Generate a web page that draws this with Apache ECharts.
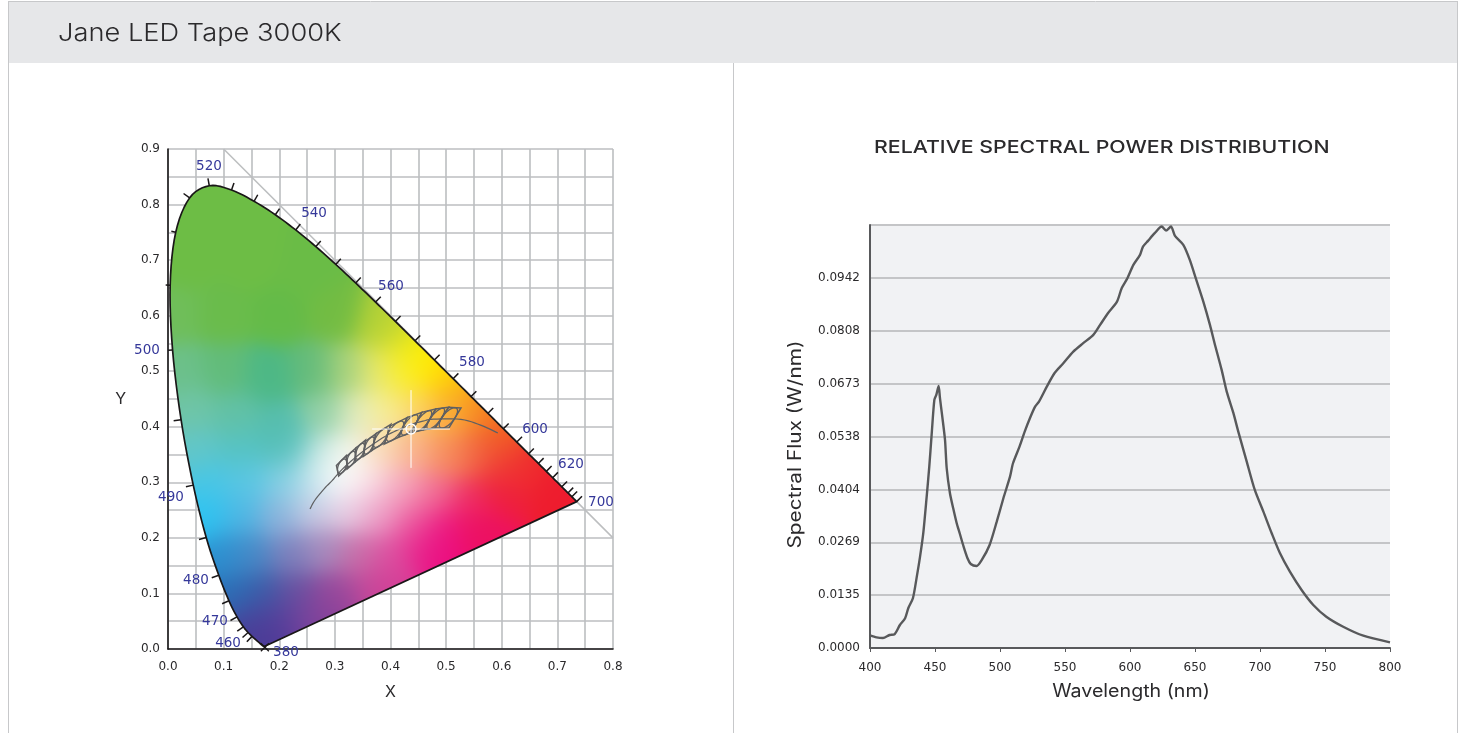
<!DOCTYPE html>
<html><head><meta charset="utf-8">
<style>html,body{margin:0;padding:0;background:#fff}#c{width:1459px;height:733px}</style>
<script src="https://cdn.jsdelivr.net/npm/echarts@6/dist/echarts.min.js"></script>
</head><body><div id="c"></div>
<script>
// CIE 1931 spectral locus
const locusNm=[380,385,390,395,400,405,410,415,420,425,430,435,440,445,450,455,460,465,470,475,480,485,490,495,500,505,510,515,520,525,530,535,540,545,550,555,560,565,570,575,580,585,590,595,600,605,610,615,620,625,630,635,640,645,650,660,700];
const locusX=[.1741,.1740,.1738,.1736,.1733,.1730,.1726,.1721,.1714,.1703,.1689,.1669,.1644,.1611,.1566,.1510,.1440,.1355,.1241,.1096,.0913,.0687,.0454,.0235,.0082,.0039,.0139,.0389,.0743,.1142,.1547,.1929,.2296,.2658,.3016,.3373,.3731,.4087,.4441,.4788,.5125,.5448,.5752,.6029,.6270,.6482,.6658,.6801,.6915,.7006,.7079,.7140,.7190,.7230,.7260,.7300,.7347];
const locusY=[.0050,.0050,.0049,.0049,.0048,.0048,.0048,.0048,.0051,.0058,.0069,.0086,.0109,.0138,.0177,.0227,.0297,.0399,.0578,.0868,.1327,.2007,.2950,.4127,.5384,.6548,.7502,.8120,.8338,.8262,.8059,.7816,.7543,.7243,.6923,.6589,.6245,.5896,.5547,.5202,.4866,.4544,.4242,.3965,.3725,.3514,.3340,.3197,.3083,.2993,.2920,.2859,.2809,.2770,.2740,.2700,.2653];
const tickNm=[455,460,465,470,475,480,485,490,495,500,505,510,515,520,525,530,535,540,545,550,555,560,565,570,575,580,585,590,595,600,605,610,615,620,630,640,650,700];
const shortTickNm=[500,505,510];
const nmLabels=['520','540','560','580','600','620','700','500','490','480','470','460','380'];
const nmLabelX=[.0737,.2625,.4009,.5465,.6598,.7245,.7784,-.0378,.0054,.0503,.0845,.1079,.2121];
const nmLabelY=[.8711,.7859,.6552,.5184,.3978,.3348,.2664,.5400,.2754,.1260,.0522,.0126,-.0036];
// Colours at sample places (x, y, colour)
const fieldX=[.08,.03,.15,.25,.01,.10,.20,.30,.38,.42,.46,.44,.49,.50,.52,.56,.60,.65,.70,.73,
 .02,.10,.18,.26,.32,.38,.42,
 .04,.12,.20,.28,.34,.39,.45,.50,
 .05,.13,.21,.27,.32,.38,.44,.50,.55,.60,
 .07,.14,.21,.26,.30,.31,.36,.42,.48,.54,.60,
 .07,.13,.20,.26,.32,.38,.44,.50,.56,
 .10,.15,.22,.28,.34,.40,.46,.50,.56,
 .12,.17,.23,.30,.36,.40,
 .15,.20,.26,.17,.30];
const fieldY=[.80,.70,.70,.68,.60,.60,.60,.60,.58,.56,.53,.51,.51,.49,.46,.43,.38,.33,.29,.27,
 .50,.50,.49,.50,.50,.50,.50,
 .43,.42,.40,.42,.42,.43,.44,.42,
 .36,.36,.36,.35,.35,.36,.36,.35,.35,.33,
 .30,.30,.30,.30,.31,.33,.30,.29,.28,.27,.28,
 .24,.24,.24,.25,.25,.24,.23,.22,.22,
 .17,.17,.17,.18,.17,.17,.18,.17,.19,
 .10,.10,.10,.10,.10,.11,
 .05,.05,.05,.01,.07];
const fieldColors=['#6dbd45','#6dbd45','#6dbd45','#6abc46','#6fbe5a','#6abc4b','#64bb48','#72bc43','#b0d038','#d5dd28','#fff200','#fff200','#ffe400','#ffcb05','#f9a61c','#f58220','#f15f22','#ef2b2d','#ee1c2e','#ee1c2e',
 '#6cc08a','#62bc7a','#4cb886','#63bb7b','#a8d27c','#e6e878','#f8ec45',
 '#6fc5a8','#62c1a6','#55bdab','#90cfa5','#e5edc5','#f8ee90','#fbd66a','#fbaf45',
 '#62c6c8','#55c3c4','#55c0c0','#aadcd8','#f3f5e5','#fbdcb9','#f9b48c','#f78f5f','#f26a45','#ef3a35',
 '#48c6e6','#5ac7e5','#84d0e5','#c0e3ee','#ffffff','#ffffff','#f9dbe6','#f5a8bf','#f17098','#ee3065','#ee1d3c',
 '#2cc4f2','#4fb6e4','#8ab2dc','#c8c9e3','#e8cde3','#ec9ec6','#ec5a9f','#ec1580','#ed1060',
 '#2a8fd0','#4a88c6','#7c7fbc','#a68bbd','#c86ea8','#dd4ea0','#e81f8b','#ec0a80','#ee0f62',
 '#2a6eb6','#3c5ca8','#6a4f9f','#9a4c9d','#c4489a','#d53e96',
 '#484098','#5a3c9a','#7a429c','#4a3a96','#8c3f98'];
// Planckian locus
const planckX=[.2553,.2637,.2807,.2950,.3135,.3451,.3805,.4053,.4369,.4599,.4770,.5267,.5620,.5930];
const planckY=[.2520,.2673,.2884,.3030,.3237,.3516,.3767,.3907,.4041,.4106,.4137,.4133,.4030,.3888];
// ANSI style quadrangles: top-right, top-left, bottom-left, bottom-right
const quads=[
 [[.5267,.4338],[.5045,.4350],[.4799,.3976],[.5050,.3978]],
 [[.5045,.4350],[.4813,.4319],[.4593,.3944],[.4799,.3976]],
 [[.4813,.4319],[.4562,.4260],[.4373,.3893],[.4593,.3944]],
 [[.4562,.4260],[.4299,.4165],[.4147,.3814],[.4373,.3893]],
 [[.4299,.4165],[.3996,.4015],[.3889,.3690],[.4147,.3814]],
 [[.4006,.4044],[.3736,.3874],[.3670,.3578],[.3898,.3716]],
 [[.3736,.3874],[.3548,.3736],[.3512,.3465],[.3670,.3578]],
 [[.3551,.3760],[.3376,.3616],[.3366,.3369],[.3515,.3487]],
 [[.3376,.3616],[.3207,.3462],[.3222,.3243],[.3366,.3369]],
 [[.3205,.3481],[.3028,.3304],[.3068,.3113],[.3221,.3261]]
];
const crossCenter=[.4369,.396];
const crossArm=.07;
// Spectrum
const wavelength=[400,405,410,415,419,423,427,429.5,433,436,438.5,441,443.6,445.6,447.4,449.5,451,452.8,453.8,455.6,457.7,459,461.5,464,466.7,469,472,475,477.5,482,486,492,497.5,502.6,507.7,510,515,519,523,527,530,536,542,548.7,556.4,564,571.8,577,583,590,593.6,598,602.6,607.7,610,614,619,624.4,627.7,631.5,634.6,641,646,651,656.4,661.5,665,670.5,674.4,679.5,683.3,689.8,696,702.6,709,715.4,723,732,741,751,764,779.5,800];
const flux=[.00323,.00272,.00255,.00331,.00356,.00586,.00756,.01019,.01266,.01816,.02325,.02928,.03853,.04616,.05424,.06315,.06442,.06671,.06366,.0589,.05296,.04576,.03939,.03557,.03175,.02921,.02579,.02284,.02139,.02088,.02241,.02623,.03216,.03812,.04362,.04703,.05126,.05508,.05849,.06144,.06272,.06654,.07002,.07249,.07545,.07759,.0797,.08225,.08523,.08818,.09159,.09414,.09752,.10007,.10218,.10371,.1056,.10728,.10626,.10728,.10491,.10262,.0988,.0937,.08818,.08225,.07766,.07079,.06526,.05984,.05508,.04744,.04023,.03471,.02921,.02411,.01943,.01477,.01095,.00797,.00542,.00313,.00145];
const fluxStep=0.01346;

const FONT='Inter, "Noto Sans", sans-serif', TICKFONT='"DejaVu Sans", sans-serif';
const INK='#2b2a2c', GRID='#bcbec0', BLUE='#35389a', DARK='#58595b', LINE='#5f6062';

function single(render,z){return {type:'custom',xAxisIndex:0,yAxisIndex:0,z:z,silent:true,data:[[0,0]],renderItem:render};}
function pt(api,x,y){return api.coord([x,y]);}
const locusPts=api=>locusX.map((x,i)=>pt(api,x,locusY[i]));
// Catmull-Rom smoothing of the drawn outline (pixel space) between locus points
function rounded(p){
  const out=[];
  for(let i=0;i<p.length-1;i++){
    const a=p[Math.max(i-1,0)],b=p[i],c=p[i+1],d=p[Math.min(i+2,p.length-1)];
    for(let k=0;k<6;k++){const t=k/6,t2=t*t,t3=t2*t;
      out.push([0,1].map(j=>.5*(2*b[j]+(c[j]-a[j])*t+(2*a[j]-5*b[j]+4*c[j]-d[j])*t2+(3*b[j]-a[j]-3*c[j]+d[j])*t3)));}
  }
  out.push(p[p.length-1]);return out;
}
// The colour wash: a fill image aligned with the axes through api.coord
let fieldImage=null;
function buildField(api){
  if(fieldImage) return fieldImage;
  const W=1459,H=733,cv=document.createElement('canvas');cv.width=W;cv.height=H;
  const ctx=cv.getContext('2d'),x0=pt(api,-.01,0),x1=pt(api,.76,0),y0=pt(api,0,.85),y1=pt(api,0,-.01);
  const L=Math.floor(x0[0]),R=Math.ceil(x1[0]),T=Math.floor(y0[1]),B=Math.ceil(y1[1]);
  const sp=fieldX.map((x,i)=>pt(api,x,fieldY[i]));
  const sc=fieldColors.map(c=>{const n=parseInt(c.slice(1),16);return [n>>16,(n>>8)&255,n&255];});
  const w=R-L,h=B-T,img=ctx.createImageData(w,h),S=2*17*17;
  for(let yy=0;yy<h;yy++)for(let xx=0;xx<w;xx++){
    let sw=0,r=0,g=0,b=0;
    for(let i=0;i<sp.length;i++){
      const dx=xx+L-sp[i][0],dy=yy+T-sp[i][1],d2=dx*dx+dy*dy,wt=Math.exp(-d2/S)+1e-6/(1+d2);
      sw+=wt;r+=wt*sc[i][0];g+=wt*sc[i][1];b+=wt*sc[i][2];
    }
    const o=(yy*w+xx)*4;img.data[o]=r/sw;img.data[o+1]=g/sw;img.data[o+2]=b/sw;img.data[o+3]=255;
  }
  const tmp=document.createElement('canvas');tmp.width=w;tmp.height=h;tmp.getContext('2d').putImageData(img,0,0);
  ctx.filter='blur(4px)';ctx.drawImage(tmp,L,T);ctx.filter='none';
  ctx.globalCompositeOperation='destination-over';ctx.drawImage(tmp,L,T);
  fieldImage=cv;return cv;
}
function colourField(p,api){
  const pts=rounded(locusPts(api));
  return {type:'group',children:[
    {type:'polygon',shape:{points:pts},style:{fill:{image:buildField(api),repeat:'no-repeat'}}},
    {type:'polygon',shape:{points:pts},style:{fill:'none',stroke:'#1a1718',lineWidth:1.7,lineJoin:'round'}}
  ]};
}
function locusTicks(p,api){
  const pts=locusPts(api), children=[];
  let cx=pt(api,.33,.33);
  tickNm.forEach(nm=>{
    const i=locusNm.indexOf(nm);
    const a=pts[Math.max(i-1,0)], b=pts[Math.min(i+1,pts.length-1)], q=pts[i];
    let nx=-(b[1]-a[1]), ny=b[0]-a[0];
    const l=Math.hypot(nx,ny)||1; nx/=l; ny/=l;
    if((q[0]-cx[0])*nx+(q[1]-cx[1])*ny<0){nx=-nx;ny=-ny;}
    const len=shortTickNm.includes(nm)?4.5:7.5;
    children.push({type:'line',shape:{x1:q[0],y1:q[1],x2:q[0]+nx*len,y2:q[1]+ny*len},style:{stroke:'#1a1718',lineWidth:1.5}});
  });
  const s=pts[0];
  [[-4,-4,4,4],[-4,4,4,-4]].forEach(d=>children.push({type:'line',shape:{x1:s[0]+d[0],y1:s[1]+d[1]+1,x2:s[0]+d[2],y2:s[1]+d[3]+1},style:{stroke:'#1a1718',lineWidth:1.4}}));
  return {type:'group',children};
}
function nmText(p,api){
  const children=nmLabels.map((t,i)=>{
    const c=pt(api,nmLabelX[i],nmLabelY[i]);
    return {type:'text',style:{x:c[0],y:c[1]+1.5,text:t,fill:BLUE,font:'13.5px '+TICKFONT,align:'center',verticalAlign:'middle'}};
  });
  return {type:'group',children};
}
function diagonal(p,api){
  const a=pt(api,.1,.9), b=pt(api,.8,.2);
  return {type:'line',shape:{x1:a[0],y1:a[1],x2:b[0],y2:b[1]},style:{stroke:GRID,lineWidth:1.5}};
}
function bins(p,api){
  const children=[];
  children.push({type:'polyline',shape:{points:rounded(planckX.map((x,i)=>pt(api,x,planckY[i])))},style:{fill:'none',stroke:LINE,lineWidth:1.2}});
  quads.forEach(q=>{
    const c=q.map(v=>pt(api,v[0],v[1]));
    children.push({type:'polygon',shape:{points:c},style:{fill:'none',stroke:LINE,lineWidth:1.5}});
    const mid=(a,b)=>[(c[a][0]+c[b][0])/2,(c[a][1]+c[b][1])/2];
    const top=mid(0,1), bot=mid(2,3), rgt=mid(0,3), lft=mid(1,2);
    const o=[(top[0]+bot[0])/2,(top[1]+bot[1])/2];
    const u=[(top[0]-bot[0])/2,(top[1]-bot[1])/2], v=[(rgt[0]-lft[0])/2,(rgt[1]-lft[1])/2];
    const ell=[];
    for(let k=0;k<28;k++){const t=k/28*2*Math.PI;ell.push([o[0]+Math.cos(t)*u[0]+Math.sin(t)*v[0],o[1]+Math.cos(t)*u[1]+Math.sin(t)*v[1]]);}
    children.push({type:'polygon',shape:{points:ell},style:{fill:'none',stroke:LINE,lineWidth:1.3}});
  });
  const h1=pt(api,crossCenter[0]-crossArm,crossCenter[1]), h2=pt(api,crossCenter[0]+crossArm,crossCenter[1]);
  const v1=pt(api,crossCenter[0],crossCenter[1]+crossArm), v2=pt(api,crossCenter[0],crossCenter[1]-crossArm);
  const m=pt(api,crossCenter[0],crossCenter[1]);
  children.push({type:'line',shape:{x1:h1[0],y1:h1[1],x2:h2[0],y2:h2[1]},style:{stroke:'#fff',lineWidth:1}});
  children.push({type:'line',shape:{x1:v1[0],y1:v1[1],x2:v2[0],y2:v2[1]},style:{stroke:'#fff',lineWidth:1}});
  children.push({type:'circle',shape:{cx:m[0],cy:m[1],r:5},style:{fill:'rgba(255,255,255,.15)',stroke:'#fff',lineWidth:1.4}});
  return {type:'group',children};
}
function label(text,x,y,size,weight,scale,rot,align){
  return {type:'text',z:20,x:x,y:y,rotation:rot||0,scaleX:scale,scaleY:1,silent:true,
    style:{x:0,y:0,text:text,fill:INK,font:weight+' '+size+'px '+FONT,align:align,verticalAlign:'middle'}};
}
const chart=echarts.init(document.getElementById('c'),null,{renderer:'canvas'});
chart.setOption({
  animation:false,
  backgroundColor:'#fff',
  graphic:[
    {type:'rect',z:-10,shape:{x:8,y:2,width:1449,height:61},style:{fill:'#e6e7e9'}},
    {type:'line',z:-9,shape:{x1:8.5,y1:1,x2:8.5,y2:733},style:{stroke:'#c7c8ca',lineWidth:1}},
    {type:'line',z:-9,shape:{x1:1457.5,y1:1,x2:1457.5,y2:733},style:{stroke:'#c7c8ca',lineWidth:1}},
    {type:'line',z:-9,shape:{x1:8,y1:1.5,x2:1458,y2:1.5},style:{stroke:'#c7c8ca',lineWidth:1}},
    {type:'line',z:-9,shape:{x1:733.5,y1:63,x2:733.5,y2:733},style:{stroke:'#c7c8ca',lineWidth:1}},
    label('Jane LED Tape 3000K',58,34,24,300,1.136,0,'left'),
    label('RELATIVE SPECTRAL POWER DISTRIBUTION',874,148,17.5,500,1.217,0,'left'),
    label('Wavelength (nm)',1131,692,18,400,1.09,0,'center'),
    label('Spectral Flux (W/nm)',796,444.5,18,400,1.157,Math.PI/2,'center')
  ],
  grid:[
    {left:168,top:149,width:445,height:500,containLabel:false},
    {left:870,top:225,width:520,height:423,show:true,backgroundColor:'#f1f2f4',borderWidth:0}
  ],
  xAxis:[
    {type:'value',gridIndex:0,min:0,max:.8,interval:.05,name:'X',nameLocation:'middle',nameGap:35,
     nameTextStyle:{fontFamily:FONT,fontSize:16,color:INK},
     axisLine:{onZero:false,lineStyle:{color:'#1a1718',width:1.6}},axisTick:{show:false},
     axisLabel:{fontFamily:TICKFONT,fontSize:12,color:INK,margin:12,showMinLabel:true,showMaxLabel:true,hideOverlap:false,
       formatter:v=>{const k=Math.round(v*20);return k%2===0?(k/20).toFixed(1):'';}},
     splitLine:{show:true,lineStyle:{color:GRID,width:1.6}}},
    {type:'value',gridIndex:1,min:400,max:800,interval:50,
     axisLine:{onZero:false,lineStyle:{color:DARK,width:2}},axisTick:{show:true,length:4,lineStyle:{color:DARK,width:1}},
     axisLabel:{fontFamily:TICKFONT,fontSize:12,color:INK,margin:14},splitLine:{show:false}}
  ],
  yAxis:[
    {type:'value',gridIndex:0,min:0,max:.9,interval:.05,name:'Y',nameLocation:'middle',nameGap:42,nameRotate:0,
     nameTextStyle:{fontFamily:FONT,fontSize:16,color:INK,padding:[6,0,0,0]},
     axisLine:{onZero:false,lineStyle:{color:'#1a1718',width:1.6}},axisTick:{show:false},
     axisLabel:{fontFamily:TICKFONT,fontSize:12,color:INK,margin:8,hideOverlap:false,padding:[2,0,0,0],
       formatter:v=>{const k=Math.round(v*20);return k%2===0?(k/20).toFixed(1):'';}},
     splitLine:{show:true,lineStyle:{color:GRID,width:1.6}}},
    {type:'value',gridIndex:1,min:0,max:fluxStep*8,interval:fluxStep,
     axisLine:{show:true,onZero:false,lineStyle:{color:DARK,width:2}},axisTick:{show:false},
     axisLabel:{fontFamily:TICKFONT,fontSize:12,color:INK,margin:10,hideOverlap:false,padding:[2,0,0,0],
       formatter:v=>v>fluxStep*7.5?'':v.toFixed(4)},
     splitLine:{show:true,lineStyle:{color:'#c4c5c7',width:2}}}
  ],
  series:[
    single(diagonal,2),
    single(colourField,3),
    single(locusTicks,4),
    single(bins,5),
    single(nmText,6),
    {type:'line',xAxisIndex:1,yAxisIndex:1,z:3,showSymbol:false,silent:true,smooth:.25,
     data:wavelength.map((w,i)=>[w,flux[i]]),lineStyle:{color:'#58595b',width:2.4}}
  ]
});
</script></body></html>
